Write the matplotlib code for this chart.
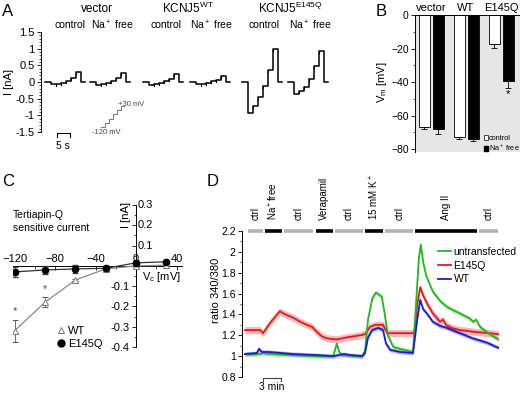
import numpy as np
import matplotlib
matplotlib.use('Agg')
import matplotlib.pyplot as plt
from matplotlib.patches import Patch
from matplotlib.lines import Line2D
from matplotlib.ticker import MultipleLocator

plt.rcParams['font.family'] = ['Liberation Sans', 'DejaVu Sans']
plt.rcParams['mathtext.fontset'] = 'custom'
plt.rcParams['mathtext.rm'] = 'Liberation Sans'
plt.rcParams['mathtext.it'] = 'Liberation Sans:italic'
plt.rcParams['font.size'] = 7.5
plt.rcParams['axes.linewidth'] = 0.7
for a in ('xtick', 'ytick'):
    plt.rcParams[a + '.major.width'] = 0.6
    plt.rcParams[a + '.minor.width'] = 0.5
    plt.rcParams[a + '.major.size'] = 3
    plt.rcParams[a + '.minor.size'] = 1.8
    plt.rcParams[a + '.major.pad'] = 1.5

W, H = 520, 394

# ---- A: current (nA) at each voltage step
step_mv = [-120, -90, -60, -30, 0, 30]
vec_ctrl = [-0.07, -0.05, -0.02, 0.03, 0.13, 0.30]
vec_na = [-0.09, -0.05, -0.02, 0.02, 0.12, 0.27]
wt_ctrl = [-0.10, -0.07, -0.03, 0.02, 0.08, 0.23]
wt_na = [-0.07, -0.05, -0.02, 0.02, 0.07, 0.17]
e145q_ctrl = [-0.94, -0.72, -0.45, -0.13, 0.36, 1.00]
e145q_na = [-0.35, -0.27, -0.16, 0.08, 0.48, 0.93]

# ---- B: membrane potential (mV)
b_groups = ['vector', 'WT', 'E145Q']
b_ctrl = [-67, -73, -17.5]
b_ctrl_err = [1, 1, 2]
b_na = [-68, -74, -39.5]
b_na_err = [3, 1, 4]

# ---- C: tertiapin-Q sensitive current (nA)
c_vc = [-120, -90, -60, -30, 0, 30]
c_wt = [-0.32, -0.18, -0.07, -0.015, 0.0, 0.003]
c_wt_err = [0.055, 0.025, 0.006, 0.01, 0.005, 0.005]
c_e145q = [-0.03, -0.02, -0.015, -0.012, 0.015, 0.02]
c_e145q_err = [0.025, 0.02, 0.02, 0.012, 0.008, 0.01]

# ---- D: fura-2 ratio 340/380 over time (min)
d_t_unt = [0, 2.5, 3, 4, 8, 12, 14.7, 15, 15.3, 15.7, 16.2, 19.5, 20, 20.5, 21.2, 21.8,
           22.8, 23.3, 23.8, 24.7, 25.8, 28, 28.5, 29, 29.3, 29.7, 30.2, 31.3, 32.5,
           33.7, 35.8, 37.5, 38, 38.5, 39.2, 40.3, 42.2]
d_unt = [1.02, 1.02, 1.03, 1.02, 1.01, 1.0, 1.0, 1.06, 1.12, 1.04, 1.01, 1.0, 1.05, 1.35,
         1.55, 1.61, 1.57, 1.40, 1.20, 1.09, 1.07, 1.04, 1.50, 1.95, 2.07, 1.90, 1.77,
         1.62, 1.53, 1.47, 1.41, 1.36, 1.33, 1.35, 1.28, 1.23, 1.16]
d_t_e145q = [0, 2.5, 3, 4.2, 5.8, 6.7, 8, 9.2, 10.3, 11.2, 12, 12.8, 13.7, 15.3, 17, 19.2,
             20, 20.8, 21.7, 23, 23.7, 25.8, 28.2, 28.7, 29.2, 29.7, 30.3, 31.3, 32.5,
             33, 33.5, 34.5, 35.8, 38.7, 40.8, 42.2]
d_e145q = [1.25, 1.25, 1.22, 1.32, 1.43, 1.40, 1.37, 1.33, 1.30, 1.28, 1.23, 1.19, 1.17,
           1.16, 1.18, 1.20, 1.21, 1.28, 1.30, 1.30, 1.22, 1.22, 1.22, 1.50, 1.66, 1.58,
           1.51, 1.41, 1.33, 1.35, 1.30, 1.27, 1.25, 1.23, 1.22, 1.21]
d_t_wt = [0, 2, 2.3, 2.8, 4, 6, 8, 12, 14.7, 16.5, 17.5, 19.5, 20, 20.5, 21.2, 22.2, 23,
          23.5, 24.2, 25.8, 28, 28.7, 29.2, 29.7, 30.3, 31.3, 32.5, 33.7, 35.8, 38,
          40.3, 42.2]
d_wt = [1.02, 1.03, 1.07, 1.04, 1.04, 1.03, 1.02, 1.01, 1.0, 1.02, 1.01, 1.0, 1.03, 1.18,
        1.25, 1.27, 1.25, 1.12, 1.06, 1.04, 1.03, 1.35, 1.54, 1.45, 1.41, 1.33, 1.29,
        1.27, 1.22, 1.17, 1.13, 1.08]
d_sem = {'untransfected': 0.02, 'E145Q': 0.035, 'WT': 0.02}
periods = ['ctrl', 'Na$^+$free', 'ctrl', 'Verapamil', 'ctrl', '15 mM K$^+$', 'ctrl',
           'Ang II', 'ctrl']
period_edges = [0.3, 3.2, 6.3, 11.6, 14.8, 19.8, 23.2, 28.2, 38.8, 42.3]


def box(x0, y0, x1, y1):
    return [x0 / W, 1 - y1 / H, (x1 - x0) / W, (y1 - y0) / H]


def ftext(x, y, s, **kw):
    fig.text(x / W, 1 - y / H, s, **kw)


fig = plt.figure(figsize=(W / 100, H / 100), dpi=100)

# panel letters
for lab, x, y in [('A', 8, 12), ('B', 381, 11), ('C', 8, 182), ('D', 213, 182)]:
    ftext(x, y, lab, fontsize=12, ha='center', va='center')

# ================= A =================
axA = fig.add_axes(box(41, 32, 335, 132))
px_per_s = 2.6
trace_start_px = [45, 90, 143, 190, 242, 288]
pre, dur, post = 2.3, 1.9, 1.5
for levels, sx in zip([vec_ctrl, vec_na, wt_ctrl, wt_na, e145q_ctrl, e145q_na], trace_start_px):
    t0 = (sx - 41) / px_per_s
    edges = [t0, t0 + pre] + [t0 + pre + dur * (i + 1) for i in range(len(levels))]
    edges.append(edges[-1] + post)
    vals = [0] + list(levels) + [0, 0]
    axA.step(edges, vals, where='post', color='k', lw=1.1)
    # small capacitive transients at step onsets
    for i, lv in enumerate(levels[1:]):
        axA.plot([edges[i + 2]] * 2, [lv - 0.06, lv], color='k', lw=0.8)
axA.set_xlim(0, (335 - 41) / px_per_s)
axA.set_ylim(-1.5, 1.5)
for s in ('top', 'right', 'bottom'):
    axA.spines[s].set_visible(False)
axA.set_xticks([])
axA.yaxis.set_minor_locator(MultipleLocator(0.1))
axA.set_yticks([1.5, 1, 0.5, 0, -0.5, -1, -1.5])
axA.set_yticklabels(['1.5', '1', '0.5', '0', '-0.5', '-1', '-1.5'])
axA.tick_params(axis='y', labelsize=8)
ftext(9, 82, 'I [nA]', rotation=90, ha='center', va='center', fontsize=8)

ftext(97, 9, 'vector', ha='center', va='center', fontsize=8.5)
ftext(188, 8, 'KCNJ5$^{\\rm WT}$', ha='center', va='center', fontsize=8.5)
ftext(290, 8, 'KCNJ5$^{\\rm E145Q}$', ha='center', va='center', fontsize=8.5)
for x, s in zip([70, 112, 166, 211, 264, 310],
                ['control', 'Na$^+$ free'] * 3):
    ftext(x, 25, s, ha='center', va='center', fontsize=7.5)

# 5 s scale bar
sb0 = (57 - 41) / px_per_s
axA.plot([sb0, sb0, sb0 + 5, sb0 + 5], [-1.66, -1.54, -1.54, -1.66], color='k', lw=0.8,
         clip_on=False)
ftext(63, 146, '5 s', ha='center', va='center', fontsize=7.5)

# voltage protocol inset
axP = fig.add_axes(box(101, 105, 125, 128))
edges_p = list(range(len(step_mv) + 1))
axP.step(edges_p, step_mv + [step_mv[-1]], where='post', color='#777777', lw=0.7)
axP.set_xlim(0, len(step_mv))
axP.set_ylim(-125, 35)
axP.axis('off')
ftext(92, 133, '-120 mV', ha='left', va='center', fontsize=5.5, color='#444444')
ftext(118, 104, '+30 mV', ha='left', va='center', fontsize=5.5, color='#444444')

# ================= B =================
axB = fig.add_axes(box(415, 15, 520, 152.4))
axB.set_facecolor('#e6e6e6')
centers = np.array([16, 51, 86])
bw = 11
axB.bar(centers - 7, b_ctrl, bw, color='white', edgecolor='k', lw=0.6)
axB.bar(centers + 7, b_na, bw, color='black', edgecolor='k', lw=0.6)
axB.errorbar(centers - 7, b_ctrl, yerr=[b_ctrl_err, [0] * 3], fmt='none', ecolor='k',
             elinewidth=0.6, capsize=2.2, capthick=0.6)
axB.errorbar(centers + 7, b_na, yerr=[b_na_err, [0] * 3], fmt='none', ecolor='k',
             elinewidth=0.6, capsize=2.2, capthick=0.6)
axB.text(centers[2] + 7, b_na[2] - b_na_err[2] - 3.5, '*', ha='center', va='center',
         fontsize=8)
axB.set_xlim(0, 105)
axB.set_ylim(-82, 0)
axB.spines['right'].set_visible(False)
axB.spines['bottom'].set_visible(False)
axB.xaxis.tick_top()
axB.set_xticks(centers)
axB.set_xticklabels(b_groups, fontsize=8)
axB.tick_params(axis='x', length=0, pad=1.5)
axB.set_yticks([0, -20, -40, -60, -80])
axB.yaxis.set_minor_locator(MultipleLocator(10))
axB.tick_params(axis='y', labelsize=7.5)
ftext(382, 82, 'V$_{\\rm m}$ [mV]', rotation=90, ha='center', va='center', fontsize=8)
axB.legend(handles=[Patch(facecolor='white', edgecolor='k', lw=0.5, label='control'),
                    Patch(facecolor='black', edgecolor='k', label='Na$^+$ free')],
           loc='lower right', bbox_to_anchor=(1.0, -0.005), frameon=False, fontsize=5.3,
           handlelength=0.6, handleheight=0.6, handletextpad=0.1, labelspacing=0.05,
           borderpad=0, borderaxespad=0)

# ================= C =================
axC = fig.add_axes(box(12.5, 205, 181.6, 347))
axC.errorbar(c_vc, c_wt, yerr=c_wt_err, color='#888888', lw=0.9, marker='^', ms=4.5,
             mfc='white', mec='#777777', mew=0.7, capsize=2, elinewidth=0.6,
             ecolor='#555555', label='WT', zorder=3)
axC.errorbar(c_vc, c_e145q, yerr=c_e145q_err, color='#333333', lw=0.9, marker='o',
             ms=4.5, mfc='k', mec='k', capsize=2, elinewidth=0.6, ecolor='#444444',
             label='E145Q', zorder=3)
axC.text(-120, -0.225, '*', ha='center', va='center', fontsize=8, color='#444444')
axC.text(-90, -0.113, '*', ha='center', va='center', fontsize=8, color='#444444')
axC.set_xlim(-122, 45)
axC.set_ylim(-0.4, 0.3)
axC.spines['bottom'].set_visible(False)
axC.spines['right'].set_visible(False)
axC.spines['left'].set_position(('data', 0))
axC.spines['top'].set_position(('data', 0))
axC.xaxis.tick_top()
axC.set_xticks([-120, -80, -40, 0, 40])
axC.xaxis.set_minor_locator(MultipleLocator(20))
axC.tick_params(axis='x', which='both', direction='in', pad=1.5, labelsize=8)
axC.set_yticks([-0.4, -0.3, -0.2, -0.1, 0.1, 0.2, 0.3])
axC.yaxis.set_minor_locator(MultipleLocator(0.05))
# negative labels left of the axis, positive ones right of it (as in the figure)
axC.set_yticklabels(['-0.4', '-0.3', '-0.2', '-0.1', '', '', ''])
for yv in (0.1, 0.2, 0.3):
    axC.text(2, yv, '%.1f' % yv, ha='left', va='center', fontsize=8)
axC.tick_params(axis='y', labelsize=8)
axC.text(-10, 0.25, 'I [nA]', rotation=90, ha='center', va='center', fontsize=8)
axC.text(44, -0.055, 'V$_{\\rm c}$ [mV]', ha='right', va='center', fontsize=8)
ftext(13, 215, 'Tertiapin-Q', ha='left', va='center', fontsize=7.5)
ftext(13, 228, 'sensitive current', ha='left', va='center', fontsize=7.5)
axC.legend(handles=[Line2D([], [], ls='none', marker='^', ms=5, mfc='white',
                           mec='#777777', mew=0.7, label='WT'),
                    Line2D([], [], ls='none', marker='o', ms=5, mfc='k', mec='k',
                           label='E145Q')],
           loc='upper left', bbox_to_anchor=(57 / W, 1 - 326 / H),
           bbox_transform=fig.transFigure, frameon=False, fontsize=8, handlelength=0.8,
           handletextpad=0.2, labelspacing=0.3, borderpad=0, borderaxespad=0)

# ================= D =================
axD = fig.add_axes(box(242, 231, 500, 377))
series = [('untransfected', d_t_unt, d_unt, '#22b822'),
          ('E145Q', d_t_e145q, d_e145q, '#e01b1b'),
          ('WT', d_t_wt, d_wt, '#1c1ccf')]
for name, t, v, col in series:
    v = np.array(v)
    axD.fill_between(t, v - d_sem[name], v + d_sem[name], color=col, alpha=0.3, lw=0)
for name, t, v, col in [series[1], series[0], series[2]]:
    axD.plot(t, v, color=col, lw=1.3, label=name)
axD.set_xlim(-0.5, 42.5)
axD.set_ylim(0.8, 2.2)
for s in ('top', 'right', 'bottom'):
    axD.spines[s].set_visible(False)
axD.set_xticks([])
axD.set_yticks([0.8, 1, 1.2, 1.4, 1.6, 1.8, 2, 2.2])
axD.set_yticklabels(['0.8', '1', '1.2', '1.4', '1.6', '1.8', '2', '2.2'])
axD.yaxis.set_minor_locator(MultipleLocator(0.1))
axD.tick_params(axis='y', labelsize=7.5)
ftext(216, 290, 'ratio 340/380', rotation=90, ha='center', va='center', fontsize=8)
trans = axD.get_xaxis_transform()
for i, lab in enumerate(periods):
    a, b = period_edges[i] + 0.2, period_edges[i + 1] - 0.2
    col = '#b3b3b3' if lab == 'ctrl' else 'k'
    axD.plot([a, b], [1.0, 1.0], transform=trans, color=col, lw=2.6, clip_on=False,
             solid_capstyle='butt')
    axD.text((a + b) / 2, 1.075, lab, transform=trans, rotation=90, ha='center',
             va='bottom', fontsize=7)
# 3 min scale bar
axD.plot([3, 3, 6, 6], [0.76, 0.795, 0.795, 0.76], color='#444444', lw=0.8, clip_on=False)
axD.text(4.5, 0.7, '3 min', ha='center', va='center', fontsize=7.5)
h, l = axD.get_legend_handles_labels()
order = [l.index('untransfected'), l.index('E145Q'), l.index('WT')]
axD.legend([h[i] for i in order], [l[i] for i in order], loc='upper left',
           bbox_to_anchor=(438 / W, 1 - 247 / H), bbox_transform=fig.transFigure,
           frameon=False, fontsize=7.5, handlelength=1.2, handletextpad=0.3,
           labelspacing=0.35, borderpad=0, borderaxespad=0)

fig.savefig('out.png', dpi=100)
